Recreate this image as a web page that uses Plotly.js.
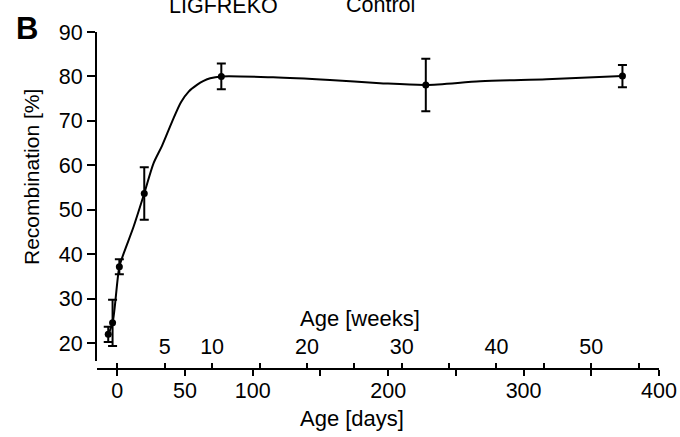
<!DOCTYPE html>
<html>
<head>
<meta charset="utf-8">
<script src="https://cdn.plot.ly/plotly-3.0.1.min.js"></script>
<style>html,body{margin:0;padding:0;background:#fff;}#chart{width:680px;height:437px;}</style>
</head>
<body>
<div id="chart"></div>
<script>
// Measured points (age in days, recombination %)
var ptsX = [-6.7, -3.5, 1.5, 19.9, 76.8, 227.8, 373];
var ptsY = [22.0, 24.6, 37.2, 53.7, 80.0, 78.1, 80.1];
var ptsErr = [1.7, 5.2, 1.7, 5.9, 2.9, 5.9, 2.5];

// Smooth curve
var curveX = [-6.7, -3.5, 1.5, 4.7, 12, 19.9, 26.8, 33, 40.4, 47, 52.7, 58.8, 63.7, 68.6, 76.8, 115, 157, 194, 227.8, 268, 317, 373];
var curveY = [22.0, 24.6, 37.2, 40.2, 46.2, 53.7, 60.5, 64.4, 69.8, 74.2, 76.6, 78.1, 79.0, 79.6, 80.0, 79.8, 79.2, 78.5, 78.1, 78.9, 79.4, 80.1];

// Axis ticks
var dayTicks = [0, 50, 100, 150, 200, 250, 300, 350, 400];
var dayLabels = ['0', '50', '100', '', '200', '', '300', '', '400'];
var weekTicks = [0, 5, 10, 15, 20, 25, 30, 35, 40, 45, 50, 55];
var weekLabels = ['', '5', '10', '', '20', '', '30', '', '40', '', '50', ''];
var yTicks = [20, 30, 40, 50, 60, 70, 80, 90];

var FONT = 'Liberation Sans, Arial, sans-serif';
var TICK = 21.5;

var traces = [
  {
    x: curveX, y: curveY, type: 'scatter', mode: 'lines',
    line: {color: '#000', width: 2, shape: 'spline', smoothing: 0.8},
    xaxis: 'x', yaxis: 'y', hoverinfo: 'skip'
  },
  {
    x: ptsX, y: ptsY, type: 'scatter', mode: 'markers',
    marker: {color: '#000', size: 7},
    error_y: {type: 'data', array: ptsErr, visible: true, color: '#000', thickness: 2, width: 4.5},
    xaxis: 'x', yaxis: 'y'
  },
  {
    x: [], y: [], type: 'scatter', xaxis: 'x2', yaxis: 'y', hoverinfo: 'skip'
  }
];

var layout = {
  width: 680, height: 437,
  margin: {l: 97, r: 21, t: 32, b: 68},
  paper_bgcolor: '#fff', plot_bgcolor: '#fff',
  showlegend: false,
  font: {family: FONT, color: '#000', size: TICK},
  xaxis: {
    range: [-15, 400], anchor: 'free', position: 0,
    showgrid: false, zeroline: false, showline: true, linecolor: '#000', linewidth: 2,
    ticks: 'outside', ticklen: 6, tickwidth: 2, tickcolor: '#000',
    ticklabelstandoff: -4,
    tickmode: 'array', tickvals: dayTicks, ticktext: dayLabels,
    tickfont: {family: FONT, size: TICK, color: '#000'}
  },
  xaxis2: {
    range: [-15 / 7, 400 / 7], overlaying: 'x', anchor: 'free', position: 0, side: 'top',
    showgrid: false, zeroline: false, showline: false,
    ticks: 'outside', ticklen: 6, tickwidth: 2, tickcolor: '#000',
    tickmode: 'array', tickvals: weekTicks, ticktext: weekLabels,
    tickfont: {family: FONT, size: TICK, color: '#000'}
  },
  yaxis: {
    range: [16, 90], domain: [0.0237, 1],
    showgrid: false, zeroline: false, showline: true, linecolor: '#000', linewidth: 2,
    ticks: 'outside', ticklen: 8, tickwidth: 2, tickcolor: '#000',
    tickmode: 'array', tickvals: yTicks,
    tickfont: {family: FONT, size: TICK, color: '#000'}
  },
  annotations: [
    {text: 'Recombination [%]', xref: 'paper', yref: 'paper', x: (31 - 97) / 562, y: (369 - 177) / 337,
     xanchor: 'center', yanchor: 'middle', textangle: -90, showarrow: false,
     font: {family: FONT, size: 21, color: '#000'}},
    {text: 'Age [days]', xref: 'paper', yref: 'paper', x: (352 - 97) / 562, y: -(418 - 369) / 337,
     xanchor: 'center', yanchor: 'middle', showarrow: false,
     font: {family: FONT, size: 22, color: '#000'}},
    {text: 'Age [weeks]', xref: 'paper', yref: 'paper', x: (360 - 97) / 562, y: (369 - 318) / 337,
     xanchor: 'center', yanchor: 'middle', showarrow: false,
     font: {family: FONT, size: 22, color: '#000'}},
    {text: '<b>B</b>', xref: 'paper', yref: 'paper', x: (26.5 - 97) / 562, y: (369 - 28) / 337,
     xanchor: 'center', yanchor: 'middle', showarrow: false,
     font: {family: FONT, size: 31, color: '#000'}},
    {text: 'LIGFREKO', xref: 'paper', yref: 'paper', x: (223 - 97) / 562, y: (369 - 6) / 337,
     xanchor: 'center', yanchor: 'middle', showarrow: false,
     font: {family: FONT, size: 21.5, color: '#000'}},
    {text: 'Control', xref: 'paper', yref: 'paper', x: (380 - 97) / 562, y: (369 - 5.5) / 337,
     xanchor: 'center', yanchor: 'middle', showarrow: false,
     font: {family: FONT, size: 21.5, color: '#000'}}
  ]
};

Plotly.newPlot('chart', traces, layout, {displayModeBar: false, staticPlot: true});
</script>
</body>
</html>
